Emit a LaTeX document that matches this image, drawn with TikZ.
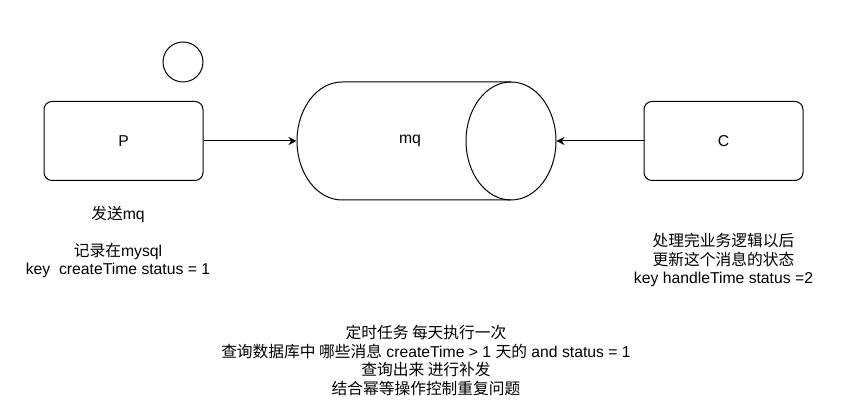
\documentclass[tikz,border=0pt]{standalone}
\usepackage{fontspec}
\setmainfont{Liberation Sans}
\newfontfamily\cjk{Noto Sans CJK SC}
\usetikzlibrary{arrows.meta,positioning}

\begin{document}
\begin{tikzpicture}[
    x=0.75pt, y=0.75pt,
    line width=0.75pt,
    font=\fontsize{11.8}{13.8}\selectfont,
    box/.style={rectangle, draw, rounded corners=6pt, minimum width=119.25pt, minimum height=59.25pt, inner sep=0pt},
    note/.style={align=center, inner sep=0pt},
    arrow/.style={-{Stealth[length=6pt,width=6pt,inset=2pt]}}
]
    \useasboundingbox (0,0) rectangle (861,402);
    \node[box] (prod) at (123.5,261) {P};
    \node[box] (cons) at (723.5,261) {C};
    \node[circle, draw, minimum size=30pt, inner sep=0pt] (dot) at (183,340) {};

    % queue as a lying cylinder
    \node[minimum width=194.25pt, minimum height=88.5pt, inner sep=0pt] (mq) at (426.5,261) {};
    \draw (511,320) -- (342,320) arc(90:270:45 and 59) -- (511,202);
    \draw (511,261) ellipse (45 and 59);
    \node (mqtext) at (410,261) {mq};

    \draw[arrow] (prod) -- (mq.west);
    \draw[arrow] (cons) -- (mq.east);

    \node[note] (plabel) at (118,160) {{\cjk 发送}mq\\ \\{\cjk 记录在}mysql\\key\ \ createTime status = 1};
    \node[note] (clabel) at (723.5,142) {{\cjk 处理完业务逻辑以后}\\{\cjk 更新这个消息的状态}\\key handleTime status =2};
    \node[note] (job) at (426,41.5) {{\cjk 定时任务 每天执行一次}\\{\cjk 查询数据库中 哪些消息} createTime > 1 {\cjk 天的} and status = 1\\{\cjk 查询出来 进行补发}\\{\cjk 结合幂等操作控制重复问题}};
\end{tikzpicture}
\end{document}
